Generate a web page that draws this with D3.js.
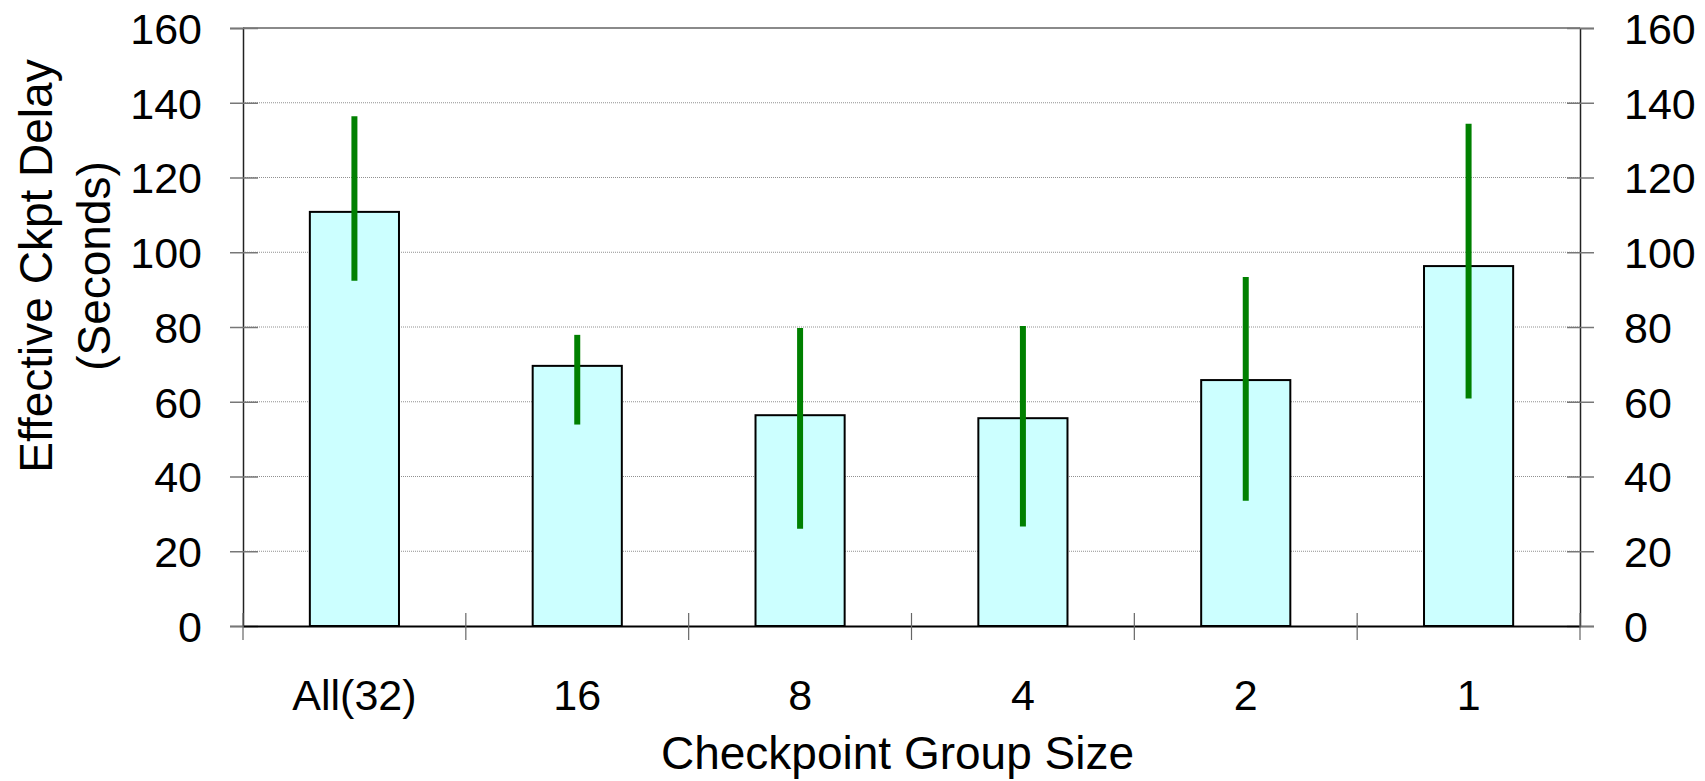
<!DOCTYPE html>
<html>
<head>
<meta charset="utf-8">
<script src="https://cdn.jsdelivr.net/npm/d3@7"></script>
<style>
  html, body { margin: 0; padding: 0; background: #fff; }
  svg { display: block; }
  text { font-family: "Liberation Sans", Arial, sans-serif; fill: #000; }
</style>
</head>
<body>
<svg id="chart" width="1705" height="781"></svg>
<script>
// Checkpoint group sizes and measured effective checkpoint delay (seconds)
const categories = ["All(32)", "16", "8", "4", "2", "1"];
const meanDelay = [110.8, 69.6, 56.4, 55.6, 65.8, 96.3];
const errLow = [92.4, 53.9, 26.0, 26.6, 33.5, 60.9];
const errHigh = [136.4, 77.9, 79.7, 80.3, 93.4, 134.4];
const yTicks = [0, 20, 40, 60, 80, 100, 120, 140, 160];

const svg = d3.select("#chart");
const plotLeft = 243, plotRight = 1580, plotTop = 28, plotBottom = 626;

const x = d3.scaleBand().domain(categories).range([plotLeft, plotRight]).padding(0);
const y = d3.scaleLinear().domain([0, 160]).range([plotBottom, plotTop]);
const barW = x.bandwidth() * 0.4;

// horizontal grid lines (dotted), top one solid
svg.append("g").selectAll("line")
  .data(yTicks.filter(t => t > 0))
  .join("line")
  .attr("x1", plotLeft).attr("x2", plotRight)
  .attr("y1", d => y(d)).attr("y2", d => y(d))
  .attr("stroke", d => d === 160 ? "#8a8a8a" : "#909090")
  .attr("stroke-width", d => d === 160 ? 2 : 1)
  .attr("stroke-dasharray", d => d === 160 ? null : "1,1");

// bars
svg.append("g").selectAll("rect")
  .data(categories)
  .join("rect")
  .attr("x", (d) => x(d) + (x.bandwidth() - barW) / 2)
  .attr("y", (d, i) => y(meanDelay[i]))
  .attr("width", barW)
  .attr("height", (d, i) => y(0) - y(meanDelay[i]))
  .attr("fill", "#ccffff")
  .attr("stroke", "#000")
  .attr("stroke-width", 2);

// error ranges
svg.append("g").selectAll("line")
  .data(categories)
  .join("line")
  .attr("x1", d => x(d) + x.bandwidth() / 2)
  .attr("x2", d => x(d) + x.bandwidth() / 2)
  .attr("y1", (d, i) => y(errLow[i]))
  .attr("y2", (d, i) => y(errHigh[i]))
  .attr("stroke", "#008000")
  .attr("stroke-width", 6);

// left axis
const gl = svg.append("g").attr("transform", `translate(${plotLeft},0)`)
  .call(d3.axisLeft(y).tickValues(yTicks).tickSize(13).tickPadding(28).tickFormat(d3.format("d")));
gl.select(".domain").attr("stroke", "#222").attr("stroke-width", 1.5);
gl.selectAll(".tick line").attr("x2", -13).attr("x1", 15).attr("stroke", "#777").attr("stroke-width", 1.5);
gl.selectAll(".tick text").style("font-size", "43px").attr("dy", "0.36em");

// right axis
const gr = svg.append("g").attr("transform", `translate(${plotRight},0)`)
  .call(d3.axisRight(y).tickValues(yTicks).tickSize(14).tickPadding(30).tickFormat(d3.format("d")));
gr.select(".domain").attr("stroke", "#222").attr("stroke-width", 1.5);
gr.selectAll(".tick line").attr("x1", -13).attr("stroke", "#777").attr("stroke-width", 1.5);
gr.selectAll(".tick text").style("font-size", "43px").attr("dy", "0.36em");

// bottom axis: labels at band centres, ticks at band boundaries
const gb = svg.append("g").attr("transform", `translate(0,${plotBottom})`)
  .call(d3.axisBottom(x).tickSize(0).tickPadding(53));
gb.select(".domain").attr("stroke", "#000").attr("stroke-width", 2);
gb.selectAll(".tick text").style("font-size", "43px");

const bounds = categories.map(d => x(d)).concat([plotRight]);
svg.append("g").selectAll("line")
  .data(bounds)
  .join("line")
  .attr("x1", d => d).attr("x2", d => d)
  .attr("y1", plotBottom - 13).attr("y2", plotBottom + 14)
  .attr("stroke", "#666").attr("stroke-width", 1.2);

// axis titles
svg.append("text")
  .attr("x", (plotLeft + plotRight) / 2 - 14).attr("y", 769)
  .attr("text-anchor", "middle")
  .style("font-size", "46px")
  .text("Checkpoint Group Size");

svg.append("text")
  .attr("transform", "translate(52,266) rotate(-90)")
  .attr("text-anchor", "middle")
  .style("font-size", "46px")
  .text("Effective Ckpt Delay");
svg.append("text")
  .attr("transform", "translate(110,266) rotate(-90)")
  .attr("text-anchor", "middle")
  .style("font-size", "46px")
  .text("(Seconds)");
</script>
</body>
</html>
